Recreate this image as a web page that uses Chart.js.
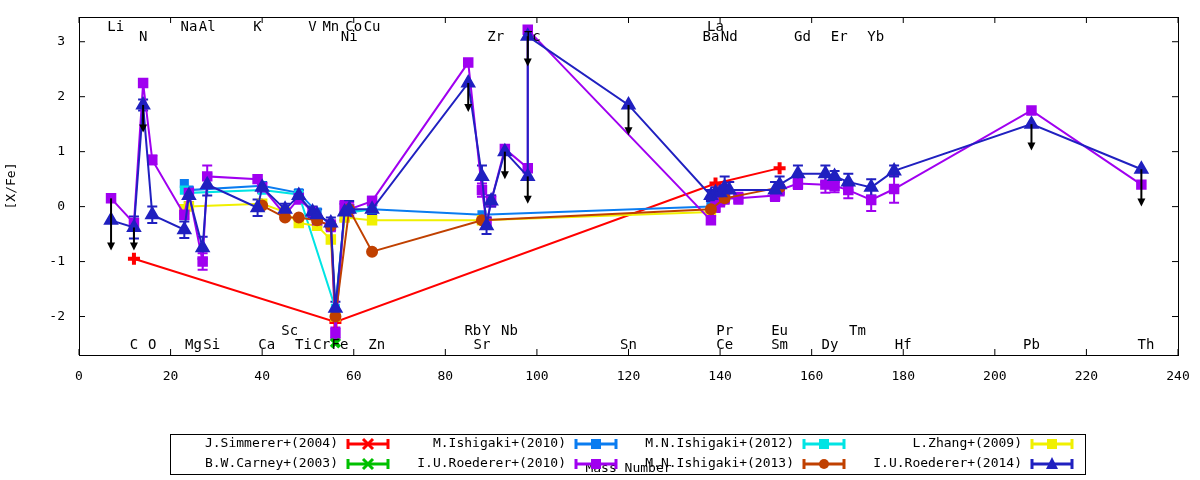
<!DOCTYPE html>
<html><head><meta charset="utf-8">
<script src="https://cdn.jsdelivr.net/npm/chart.js@4.4.1/dist/chart.umd.min.js"></script>
<style>html,body{margin:0;padding:0;background:#fff}canvas{display:block}</style>
</head><body>
<div style="width:1200px;height:480px"><canvas id="c" width="1200" height="480"></canvas></div>
<script>
const FONT = '"DejaVu Sans Mono", monospace';
// [mass, value, error]
const simmerer = [[12,-0.95],[56,-2.1],[139,0.42],[153,0.7]];
const carney = [[56,-2.48]];
const ishigaki2010 = [[23,0.42],[24,0.3],[40,0.38],[48,0.25],[52,-0.1],[55,-0.35],[56,-1.9],[58,-0.1],[64,-0.05],[88,-0.15],[138,0.0]];
const ishigaki2012 = [[23,0.3],[24,0.25],[40,0.3],[48,0.22],[56,-1.85],[58,-0.12],[64,-0.05]];
const ishigaki2013 = [[40,0.02],[45,-0.2],[48,-0.2],[52,-0.25],[55,-0.35],[56,-2.0],[59,-0.05],[64,-0.82],[88,-0.25],[138,-0.05],[141,0.15],[153,0.35]];
const zhang = [[23,-0.05],[24,0.0],[40,0.05],[45,-0.1],[48,-0.3],[52,-0.35],[55,-0.6],[56,-2.0],[58,-0.2],[64,-0.25],[88,-0.25],[138,-0.1]];
const roederer2010 = [[7,0.15,0],[12,-0.3,0],[14,2.25,0],[16,0.85,0.08],[23,-0.15,0],[24,0.25,0.1],[27,-1.0,0.15],[28,0.55,0.2],[39,0.5,0],[40,0.35,0.08],[45,-0.15,0.08],[48,0.15,0.1],[51,-0.1,0.08],[52,-0.25,0.1],[55,-0.35,0.1],[56,-2.3,0.1],[58,0.0,0.1],[59,-0.05,0.12],[64,0.1,0.08],[85,2.62,0],[88,0.3,0.12],[89,-0.3,0.1],[90,0.1,0.1],[93,1.05,0],[98,0.7,0],[98,3.22,0],[138,-0.25,0],[139,0.0,0.1],[140,0.1,0.1],[141,0.15,0.1],[144,0.15,0.1],[152,0.2,0.1],[153,0.3,0.1],[157,0.42,0.1],[163,0.4,0.15],[165,0.38,0.12],[168,0.3,0.15],[173,0.12,0.2],[178,0.32,0.25],[208,1.75,0],[232,0.4,0]];
const roederer2014 = [[7,-0.25,0],[12,-0.38,0.2],[14,1.85,0.1],[16,-0.15,0.15],[23,-0.42,0.15],[24,0.2,0.12],[27,-0.75,0.2],[28,0.4,0.2],[39,-0.02,0.15],[40,0.35,0.1],[45,-0.05,0.1],[48,0.2,0.1],[51,-0.1,0.1],[52,-0.15,0.1],[55,-0.3,0.1],[56,-1.85,0.12],[58,-0.1,0.15],[59,-0.05,0.15],[64,-0.05,0.1],[85,2.25,0],[88,0.55,0.2],[89,-0.35,0.15],[90,0.1,0.1],[93,1.0,0],[98,0.55,0],[98,3.1,0],[120,1.85,0],[138,0.2,0.1],[139,0.25,0.1],[140,0.25,0.15],[141,0.35,0.2],[142,0.3,0.15],[152,0.3,0.15],[153,0.4,0.15],[157,0.6,0.15],[163,0.6,0.15],[165,0.55,0.1],[168,0.45,0.15],[173,0.35,0.15],[178,0.65,0.1],[208,1.5,0],[232,0.68,0]];
// upper-limit arrows: [mass, from, to]
const arrows = [[7,0.15,-0.8],[12,-0.38,-0.8],[14,1.85,1.35],[85,2.25,1.72],[93,1.0,0.5],[98,0.55,0.05],[98,3.1,2.55],[120,1.85,1.3],[208,1.5,1.02],[232,0.68,0.0]];
// element labels: [name, mass, row]  rows: 0 top1,1 top2,2 bottom1,3 bottom2
const elements = [["Li",8,0],["N",14,1],["Na",24,0],["Al",28,0],["K",39,0],["V",51,0],["Mn",55,0],["Co",60,0],["Ni",59,1],["Cu",64,0],["Zr",91,1],["Tc",99,1],["La",139,0],["Ba",138,1],["Nd",142,1],["Gd",158,1],["Er",166,1],["Yb",174,1],
["Sc",46,2],["Rb",86,2],["Y",89,2],["Nb",94,2],["Pr",141,2],["Eu",153,2],["Tm",170,2],
["C",12,3],["O",16,3],["Mg",25,3],["Si",29,3],["Ca",41,3],["Ti",49,3],["Cr",53,3],["Fe",57,3],["Zn",65,3],["Sr",88,3],["Sn",120,3],["Ce",141,3],["Sm",153,3],["Dy",164,3],["Hf",180,3],["Pb",208,3],["Th",233,3]];

const pts = a => a.map(p => ({x:p[0], y:p[1], e:p[2]||0}));
function ds(label, arr, color, style, r){
  return {label, data:pts(arr), borderColor:color, backgroundColor:color, showLine:true, borderWidth:2,
    pointStyle:style, pointRadius:r, pointBorderWidth:2, tension:0};
}
const datasets = [
  ds('J.Simmerer+(2004)', simmerer, '#ff0000', 'crossRot', 0),
  ds('M.Ishigaki+(2010)', ishigaki2010, '#0a7cf0', 'rect', 5),
  ds('M.N.Ishigaki+(2012)', ishigaki2012, '#00e4e4', 'rect', 5),
  ds('L.Zhang+(2009)', zhang, '#f0f000', 'rect', 6),
  ds('B.W.Carney+(2003)', carney, '#00c000', 'crossRot', 6),
  ds('I.U.Roederer+(2010)', roederer2010, '#a000f0', 'rect', 6),
  ds('M.N.Ishigaki+(2013)', ishigaki2013, '#c04000', 'circle', 5),
  ds('I.U.Roederer+(2014)', roederer2014, '#2020c0', 'triangle', 7),
];
datasets[0].pointStyle='cross'; datasets[0].pointRadius=6; datasets[0].pointBorderWidth=4;
datasets[4].pointBorderWidth=4;
datasets.forEach((d,i)=>d.order = 8-i);

const plugin = {
  id:'extras',
  beforeDatasetsDraw(chart){
    const {ctx, scales:{x,y}} = chart;
    ctx.save();
    chart.data.datasets.forEach(d=>{
      ctx.strokeStyle=d.borderColor; ctx.lineWidth=2;
      d.data.forEach(p=>{ if(!p.e) return;
        const px=x.getPixelForValue(p.x), y1=y.getPixelForValue(p.y-p.e), y2=y.getPixelForValue(p.y+p.e);
        ctx.beginPath(); ctx.moveTo(px,y1); ctx.lineTo(px,y2);
        ctx.moveTo(px-5,y1); ctx.lineTo(px+5,y1); ctx.moveTo(px-5,y2); ctx.lineTo(px+5,y2); ctx.stroke();
      });
    });
    ctx.restore();
  },
  afterDatasetsDraw(chart){
    const {ctx, chartArea:a, scales:{x,y}} = chart;
    ctx.save();
    ctx.strokeStyle='#000'; ctx.fillStyle='#000'; ctx.lineWidth=2;
    arrows.forEach(([m,f,t])=>{
      const px=x.getPixelForValue(m), p1=y.getPixelForValue(f), p2=y.getPixelForValue(t);
      ctx.beginPath(); ctx.moveTo(px,p1); ctx.lineTo(px,p2-4); ctx.stroke();
      ctx.beginPath(); ctx.moveTo(px,p2); ctx.lineTo(px-4,p2-8); ctx.lineTo(px+4,p2-8); ctx.closePath(); ctx.fill();
    });
    ctx.font='14px '+FONT; ctx.textAlign='center'; ctx.textBaseline='middle';
    const rows=[a.top+10,a.top+20,a.bottom-24,a.bottom-10];
    elements.forEach(([n,m,r])=>ctx.fillText(n,x.getPixelForValue(m),rows[r]));
    // inward mirrored ticks
    ctx.lineWidth=1;
    ctx.beginPath();
    for(let v=0;v<=240;v+=20){const px=x.getPixelForValue(v);ctx.moveTo(px,a.bottom);ctx.lineTo(px,a.bottom-6);ctx.moveTo(px,a.top);ctx.lineTo(px,a.top+6);}
    for(let v=-2;v<=3;v++){const py=y.getPixelForValue(v);ctx.moveTo(a.left,py);ctx.lineTo(a.left+6,py);ctx.moveTo(a.right,py);ctx.lineTo(a.right-6,py);}
    ctx.stroke();
    ctx.strokeRect(a.left+0.5,a.top+0.5,a.right-a.left,a.bottom-a.top);
    // legend
    const lx=170, ly=434, lw=915, lh=40;
    ctx.strokeRect(lx+0.5,ly+0.5,lw,lh);
    ctx.font='13px '+FONT; ctx.textAlign='right';
    chart.data.datasets.forEach((d,i)=>{
      const col=i%4, row=Math.floor(i/4);
      const tx=lx+168+col*228, ty=ly+10+row*20;
      ctx.fillStyle='#000'; ctx.fillText(d.label,tx,ty);
      ctx.strokeStyle=d.borderColor; ctx.fillStyle=d.borderColor; ctx.lineWidth=3;
      ctx.beginPath(); ctx.moveTo(tx+10,ty); ctx.lineTo(tx+50,ty);
      ctx.moveTo(tx+10,ty-5); ctx.lineTo(tx+10,ty+5); ctx.moveTo(tx+50,ty-5); ctx.lineTo(tx+50,ty+5); ctx.stroke();
      const cx=tx+30;
      if(d.pointStyle==='rect') ctx.fillRect(cx-5,ty-5,10,10);
      else if(d.pointStyle==='circle'){ctx.beginPath();ctx.arc(cx,ty,5,0,7);ctx.fill();}
      else if(d.pointStyle==='triangle'){ctx.beginPath();ctx.moveTo(cx,ty-7);ctx.lineTo(cx-6,ty+5);ctx.lineTo(cx+6,ty+5);ctx.fill();}
      else {ctx.beginPath();ctx.moveTo(cx-5,ty-5);ctx.lineTo(cx+5,ty+5);ctx.moveTo(cx+5,ty-5);ctx.lineTo(cx-5,ty+5);ctx.stroke();}
    });
    ctx.restore();
  }
};

new Chart(document.getElementById('c'), {
  type:'scatter',
  data:{datasets},
  plugins:[plugin],
  options:{
    responsive:false, animation:false, devicePixelRatio:1,
    layout:{padding:{top:17,right:22,left:0,bottom:0}},
    plugins:{legend:{display:false},tooltip:{enabled:false}},
    scales:{
      x:{type:'linear',min:0,max:240,
        afterFit(s){s.height=125;},
        ticks:{stepSize:20,color:'#000',font:{family:FONT,size:13},padding:6,maxRotation:0},
        grid:{display:false},border:{display:false},
        title:{display:true,text:'Mass Number',color:'#000',font:{family:FONT,size:13},padding:{top:8}}},
      y:{type:'linear',min:-2.7,max:3.45,
        afterFit(s){s.width=79;},
        afterBuildTicks(s){s.ticks=[-2,-1,0,1,2,3].map(v=>({value:v}));},
        ticks:{color:'#000',font:{family:FONT,size:13},padding:6},
        grid:{display:false},border:{display:false},
        title:{display:true,text:'[X/Fe]',color:'#000',font:{family:FONT,size:13},padding:{bottom:4}}}
    }
  }
});
</script>
</body></html>
